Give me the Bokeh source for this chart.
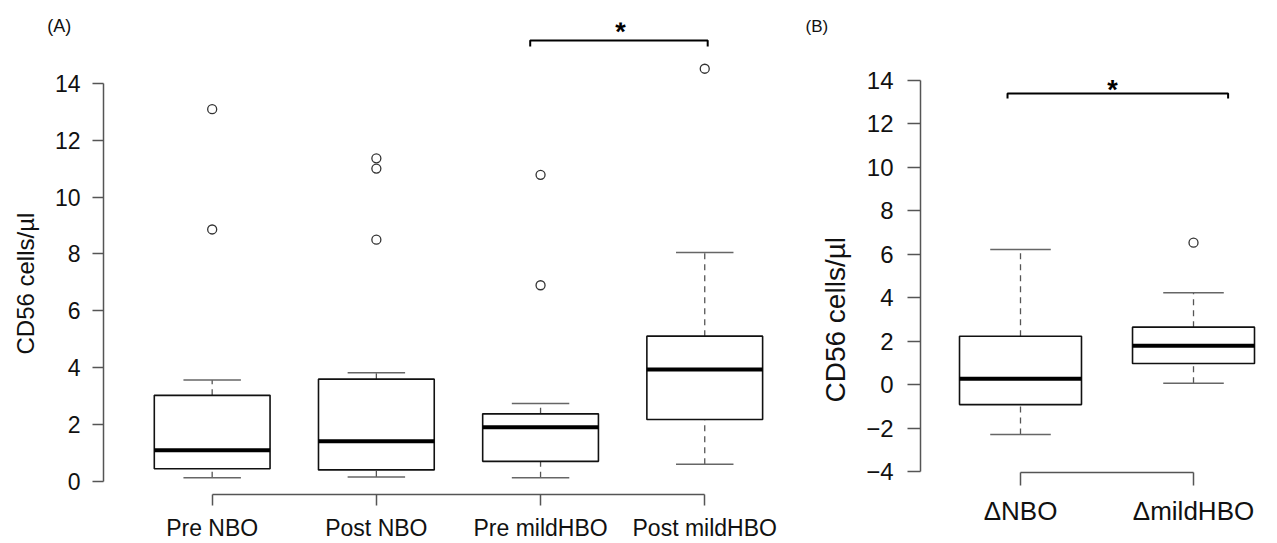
from bokeh.plotting import figure
from bokeh.models import Range1d, FixedTicker, Label, Title
from bokeh.layouts import row, column
from bokeh.core.properties import value
from bokeh.embed import file_html
from bokeh.resources import INLINE

FONT = "Liberation Sans"
YLABEL = "CD56 cells/\u00b5l"

# ---------------- data: panel A ----------------
groups_a = ["Pre NBO", "Post NBO", "Pre mildHBO", "Post mildHBO"]
a_lower = [0.13, 0.16, 0.13, 0.61]
a_q1 = [0.45, 0.41, 0.71, 2.18]
a_med = [1.10, 1.42, 1.91, 3.94]
a_q3 = [3.03, 3.60, 2.38, 5.11]
a_upper = [3.57, 3.82, 2.74, 8.05]
a_out_group = [1, 1, 2, 2, 2, 3, 3, 4]
a_out_val = [13.09, 8.86, 11.36, 11.00, 8.50, 10.78, 6.90, 14.51]
a_yticks = [0, 2, 4, 6, 8, 10, 12, 14]

# ---------------- data: panel B ----------------
groups_b = ["\u0394NBO", "\u0394mildHBO"]
b_lower = [-2.28, 0.07]
b_q1 = [-0.91, 0.98]
b_med = [0.28, 1.79]
b_q3 = [2.23, 2.65]
b_upper = [6.22, 4.23]
b_out_group = [2]
b_out_val = [6.53]
b_yticks = [-4, -2, 0, 2, 4, 6, 8, 10, 12, 14]

BOX_W = 0.705
CAP_W = 0.35


def draw_boxes(p, lower, q1, med, q3, upper, og, ov):
    xs = list(range(1, len(med) + 1))
    p.segment(x0=xs, y0=q3, x1=xs, y1=upper, line_color="#555555",
              line_width=1.3, line_dash="6 5")
    p.segment(x0=xs, y0=lower, x1=xs, y1=q1, line_color="#555555",
              line_width=1.3, line_dash="6 5")
    p.segment(x0=[x - CAP_W / 2 for x in xs], y0=upper,
              x1=[x + CAP_W / 2 for x in xs], y1=upper,
              line_color="#666666", line_width=1.5)
    p.segment(x0=[x - CAP_W / 2 for x in xs], y0=lower,
              x1=[x + CAP_W / 2 for x in xs], y1=lower,
              line_color="#666666", line_width=1.5)
    p.quad(left=[x - BOX_W / 2 for x in xs], right=[x + BOX_W / 2 for x in xs],
           bottom=q1, top=q3, fill_color="white", line_color="#111111",
           line_width=1.6)
    p.segment(x0=[x - BOX_W / 2 for x in xs], y0=med,
              x1=[x + BOX_W / 2 for x in xs], y1=med,
              line_color="black", line_width=4)
    p.scatter(x=og, y=ov, marker="circle", size=9, fill_color="white",
              line_color="#333333", line_width=1.3)


def style(p, yticks, ybounds, ncat, labels, tick_fs, lab_fs,
          ytick_out, xtick_out, ystand, xstand):
    p.grid.visible = False
    p.outline_line_color = None
    p.background_fill_color = "white"
    p.border_fill_color = "white"
    ya = p.yaxis[0]
    ya.ticker = FixedTicker(ticks=yticks)
    ya.bounds = ybounds
    ya.major_label_overrides = {t: (("\u2212" + str(-t)) if t < 0 else str(t)) for t in yticks}
    ya.major_label_text_font = FONT
    ya.major_label_text_font_size = tick_fs
    ya.major_label_text_color = "#111111"
    ya.major_label_standoff = ystand
    ya.major_tick_out = ytick_out
    ya.major_tick_in = 0
    ya.minor_tick_out = 0
    ya.minor_tick_in = 0
    ya.axis_line_color = "#555555"
    ya.axis_line_width = 1.5
    ya.major_tick_line_color = "#555555"
    ya.major_tick_line_width = 1.5

    xa = p.xaxis[0]
    xt = list(range(1, ncat + 1))
    xa.ticker = FixedTicker(ticks=xt)
    xa.bounds = (1, ncat)
    xa.major_label_overrides = {t: lab for t, lab in zip(xt, labels)}
    xa.major_label_text_font = FONT
    xa.major_label_text_font_size = lab_fs
    xa.major_label_text_color = "#111111"
    xa.major_label_standoff = xstand
    xa.major_tick_out = xtick_out
    xa.major_tick_in = 0
    xa.minor_tick_out = 0
    xa.minor_tick_in = 0
    xa.axis_line_color = "#555555"
    xa.axis_line_width = 1.5
    xa.major_tick_line_color = "#555555"
    xa.major_tick_line_width = 1.5


# ---------------- Panel A ----------------
pA = figure(width=790, height=543, output_backend="svg", toolbar_location=None,
            x_range=Range1d(0.3381, 4.4614), y_range=Range1d(-0.455, 16.135),
            min_border_left=101, min_border_right=10, min_border_top=22,
            min_border_bottom=47)
style(pA, a_yticks, (0, 14), len(groups_a), groups_a, "23px", "23px",
      11, 11, 12, 9)
pA.add_layout(Title(text=YLABEL, align="left", offset=140, standoff=22,
                    vertical_align="top", text_font=FONT, text_font_size="24px",
                    text_font_style="normal", text_color="#111111"), "left")
draw_boxes(pA, a_lower, a_q1, a_med, a_q3, a_upper, a_out_group, a_out_val)

pA.line(x=[2.937, 2.937, 4.018, 4.018], y=[15.29, 15.5, 15.5, 15.29],
        line_color="black", line_width=2)
pA.text(x=[3.487], y=[15.80], text=["*"], text_font=value(FONT),
        text_font_style="bold", text_font_size="27px", text_align="center",
        text_baseline="alphabetic", text_color="black")
pA.add_layout(Label(x=0.068, y=16.01, text="(A)", text_font=FONT,
                    text_font_size="18px", text_align="center",
                    text_baseline="middle", text_color="#111111"), "above")

# ---------------- Panel B ----------------
pB = figure(width=487, height=543, output_backend="svg", toolbar_location=None,
            x_range=Range1d(0.422, 2.445), y_range=Range1d(-4.03, 16.007),
            min_border_left=130, min_border_right=7, min_border_top=36,
            min_border_bottom=71)
style(pB, b_yticks, (-4, 14), len(groups_b), groups_b, "24px", "26px",
      13, 13, 14, 10)
pB.add_layout(Title(text=YLABEL, align="left", offset=70, standoff=22,
                    vertical_align="top", text_font=FONT, text_font_size="28px",
                    text_font_style="normal", text_color="#111111"), "left")
draw_boxes(pB, b_lower, b_q1, b_med, b_q3, b_upper, b_out_group, b_out_val)

pB.line(x=[0.925, 0.925, 2.2, 2.2], y=[13.16, 13.39, 13.39, 13.16],
        line_color="black", line_width=2)
pB.text(x=[1.532], y=[13.57], text=["*"], text_font=value(FONT),
        text_font_style="bold", text_font_size="27px", text_align="center",
        text_baseline="alphabetic", text_color="black")
pB.add_layout(Title(text="(B)", align="left", offset=-115, standoff=2,
                    text_font=FONT, text_font_size="17px",
                    text_font_style="normal", text_color="#111111"), "above")

layout = row(column(pA), column(pB), spacing=0)
open("out.html", "w").write(file_html(layout, INLINE))
